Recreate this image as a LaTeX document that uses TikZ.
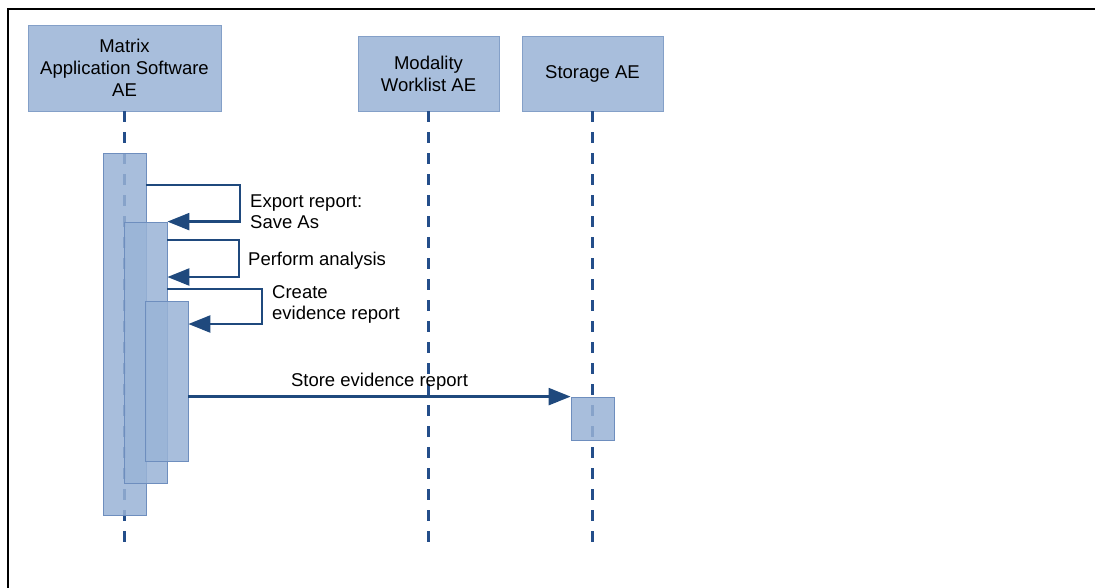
\documentclass[tikz,border=0pt]{standalone}
\usepackage{fontspec}
\setmainfont{Liberation Sans}
\usetikzlibrary{arrows.meta}
\definecolor{msgblue}{RGB}{31,73,125}
\definecolor{lifeblue}{RGB}{36,78,138}
\definecolor{headfill}{RGB}{168,190,220}
\definecolor{headedge}{RGB}{132,160,200}
\definecolor{barfill}{RGB}{153,179,214}
\definecolor{baredge}{RGB}{110,142,190}

\tikzset{
  head/.style={draw=headedge, line width=0.8pt, fill=headfill, align=center,
    inner sep=0pt, font=\fontsize{18.5}{22}\selectfont},
  lifeline/.style={draw=lifeblue, line width=2.2pt, dash pattern=on 11pt off 10pt},
  actbar/.style={draw=baredge, line width=0.8pt, fill=barfill, fill opacity=0.85,
    minimum width=43pt, inner sep=0pt},
  msg/.style={draw=msgblue, line width=2.4pt,
    -{Triangle[length=22pt,width=17pt]}},
  msglabel/.style={anchor=west, align=left, inner sep=0pt,
    font=\fontsize{18.5}{21}\selectfont}
}

\begin{document}
\begin{tikzpicture}[x=1pt,y=-1pt]
  \useasboundingbox (0,0) rectangle (1095,587);
  % frame
  \draw[line width=2.5pt, line cap=rect] (8,587) -- (8,9) -- (1095,9);

  % lifeline heads
  \node[head, minimum width=193pt, minimum height=86pt] (matrix) at (124.5,68)
    {Matrix\\Application Software\\AE};
  \node[head, minimum width=141pt, minimum height=75pt] (modality) at (428.5,73.5)
    {Modality\\Worklist AE};
  \node[head, minimum width=141pt, minimum height=75pt] (storage) at (592.5,73.5)
    {Storage AE};

  % lifelines
  \coordinate (matrixend) at (124.5,548);
  \coordinate (modalityend) at (428.5,548);
  \coordinate (storageend) at (592.5,548);
  \draw[lifeline] (matrix.south) -- (matrixend);
  \draw[lifeline] (modality.south) -- (modalityend);
  \draw[lifeline] (storage.south) -- (storageend);

  % activation bars
  \node[actbar, minimum height=362pt] (act1) at (124.5,334) {};
  \node[actbar, minimum height=261pt] (act2) at (145.5,352.5) {};
  \node[actbar, minimum height=160pt] (act3) at (166.5,381) {};
  \node[actbar, minimum height=43pt] (actstore) at (592.5,418.5) {};

  % self messages
  \draw[msg] (act1.east |- 0,185) -- (240,185) |- (act2.north east);
  \node[msglabel] (lblexport) at (250,212) {Export report:\\Save As};

  \draw[msg] (act2.east |- 0,240) -- (239,240) |- (act2.east |- 0,277);
  \node[msglabel] (lblanalysis) at (248,261) {Perform analysis};

  \draw[msg] (act2.east |- 0,289) -- (262,289) |- (act3.east |- 0,324);
  \node[msglabel] (lblcreate) at (272,304) {Create\\evidence report};

  % store message
  \draw[msg] (act3.east |- actstore.north) -- (actstore.north west)
    node[midway, above=5pt, inner sep=0pt, font=\fontsize{18.5}{21}\selectfont]
    (lblstore) {Store evidence report};
\end{tikzpicture}
\end{document}
